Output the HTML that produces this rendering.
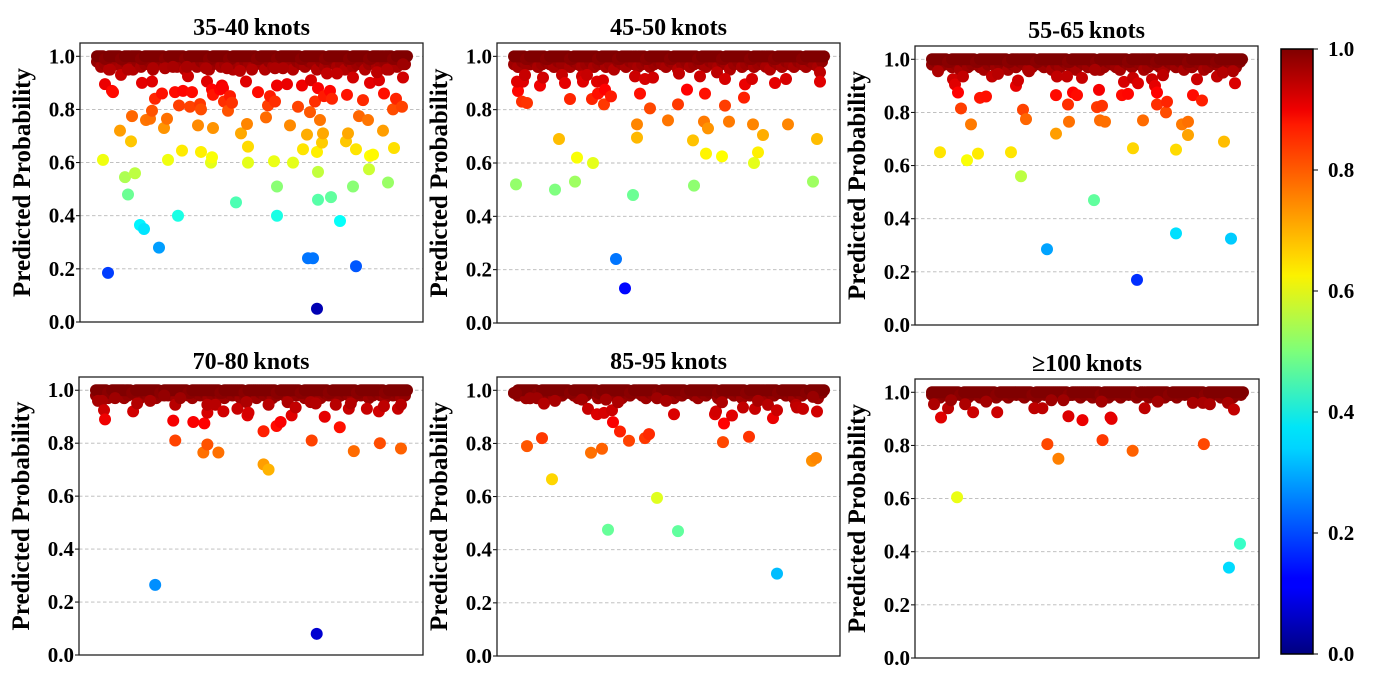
<!DOCTYPE html>
<html><head><meta charset="utf-8">
<style>
html,body{margin:0;padding:0;background:#fff;}
svg{display:block;font-family:"Liberation Serif",serif;font-weight:bold;}
</style></head>
<body>
<svg id="fig" width="1377" height="684" viewBox="0 0 1377 684" xmlns="http://www.w3.org/2000/svg">
<defs>
<linearGradient id="jet" x1="0" y1="1" x2="0" y2="0">
<stop offset="0" stop-color="#000080"/><stop offset="0.11" stop-color="#0000ff"/>
<stop offset="0.125" stop-color="#0000ff"/><stop offset="0.34" stop-color="#00d4ff"/>
<stop offset="0.375" stop-color="#00e5f8"/><stop offset="0.5" stop-color="#7dff7a"/>
<stop offset="0.625" stop-color="#fbf200"/><stop offset="0.66" stop-color="#ffd400"/>
<stop offset="0.875" stop-color="#ff1a00"/><stop offset="0.9" stop-color="#f00000"/>
<stop offset="1" stop-color="#800000"/>
</linearGradient>
</defs>
</svg>
<script>
// ---- data (sample index, predicted probability) ----
const panelTitles = ["35-40\u2009knots","45-50\u2009knots","55-65\u2009knots","70-80\u2009knots","85-95\u2009knots","\u2265100\u2009knots"];
const yTicks = [0.0,0.2,0.4,0.6,0.8,1.0];
const yTickLabels = ["0.0","0.2","0.4","0.6","0.8","1.0"];
const cbTicks = [0.0,0.2,0.4,0.6,0.8,1.0];
const cbTickLabels = ["0.0","0.2","0.4","0.6","0.8","1.0"];

const top1Line=[1,1,0.99,1,1,1,0.99,1,1,1,1,0.99,1,1,1,1,1,0.99,1,1,1,1,0.99,1,1,1,1,1,0.99,1,1,1,1,0.99,1,1,1,1,1,1,0.99,1,1,1,1,0.99,1,1,1,1,1,0.99,1,1,1,1,1,0.99,1,1,1,1,1,0.99,1,1,1,1,0.99,1,1,1,1,1,0.99,1,1,1];
const top1Low=[0.98,0.96,0.97,0.95,0.98,0.97,0.96,0.98,0.97,0.95,0.98,0.96,0.97,0.98,0.95,0.97,0.98,0.96,0.97,0.98,0.96,0.97,0.95,0.98,0.97,0.96,0.98,0.97,0.95,0.97,0.98,0.96,0.97,0.98,0.95,0.97,0.96,0.98,0.97,0.96,0.98,0.97,0.95,0.98,0.96,0.97,0.98,0.96,0.97,0.95,0.98,0.97,0.96,0.98,0.97,0.95,0.98,0.96,0.97,0.98,0.96,0.97,0.95,0.98,0.96,0.97,0.98,0.95,0.97,0.98,0.96,0.97,0.98,0.95,0.97,0.96,0.98,0.97];
const out1Idx=[6,8,11,15,16,23,24,28,31,34,35,38,43,45,47,49,53,55,55,58,62,65,67,70,71,78,81,82,85,86,91,93,95,101,103,104,104,110,114,115,115,116,116,123,125,126,127,131,133,135,139,144,149,150,151,151,161,169,171,173,177,178,180,180,180,190,193,196,201,205,206,210,211,213,214,216,218,220,220,221,221,221,223,225,226,227,233,234,235,243,249,250,251,256,259,259,262,266,271,272,273,273,276,282,286,287,291,296,297,299,305,306,13,31,56,68,76,90,109,130,143,155,178,186,230,240,256,280,290,306];
const out1Val=[0.61,0.895,0.185,0.87,0.865,0.72,0.93,0.545,0.48,0.68,0.775,0.56,0.365,0.9,0.35,0.76,0.765,0.795,0.905,0.84,0.28,0.86,0.73,0.765,0.61,0.865,0.4,0.815,0.645,0.87,0.925,0.81,0.865,0.74,0.82,0.8,0.64,0.905,0.6,0.62,0.875,0.73,0.855,0.875,0.89,0.88,0.83,0.795,0.85,0.825,0.45,0.71,0.905,0.745,0.66,0.6,0.865,0.77,0.815,0.85,0.605,0.83,0.51,0.4,0.89,0.895,0.74,0.6,0.81,0.89,0.65,0.705,0.24,0.79,0.91,0.24,0.83,0.64,0.05,0.46,0.565,0.88,0.76,0.675,0.71,0.85,0.87,0.47,0.84,0.38,0.68,0.855,0.71,0.51,0.65,0.21,0.775,0.835,0.76,0.575,0.9,0.625,0.63,0.91,0.72,0.86,0.525,0.8,0.655,0.84,0.81,0.92,0.95,0.95,0.955,0.955,0.96,0.96,0.955,0.955,0.945,0.95,0.955,0.955,0.935,0.935,0.92,0.94,0.95,0.97];

const top2Line=[1,1,1,0.99,1,1,1,1,0.99,1,1,1,1,1,0.99,1,1,1,1,1,1,0.99,1,1,1,1,0.99,1,1,1,1,1,1,0.99,1,1,1,1,1,0.99,1,1,1,1,1,1,0.99,1,1,1,1,1,0.99,1,1,1,1,1,1,0.99,1,1,1,1,1,0.99,1,1,1,1,1,1,0.99,1,1,1,1,1];
const top2Low=[0.97,0.96,0.98,0.97,0.97,0.98,0.96,0.97,0.98,0.97,0.96,0.98,0.97,0.97,0.96,0.98,0.97,0.96,0.97,0.98,0.96,0.97,0.98,0.96,0.97,0.95,0.98,0.97,0.96,0.98,0.97,0.96,0.97,0.98,0.96,0.97,0.98,0.97,0.96,0.98,0.97,0.95,0.97,0.98,0.96,0.97,0.98,0.97,0.96,0.98,0.97,0.96,0.98,0.97,0.95,0.97,0.98,0.96,0.97,0.98,0.96,0.97,0.98,0.96,0.95,0.98,0.97,0.96,0.98,0.97,0.96,0.98,0.97,0.96,0.98,0.97,0.96,0.98];
const out2Idx=[2,4,3,9,8,13,11,26,29,41,45,48,51,56,61,63,68,69,73,78,79,83,84,89,91,90,97,102,111,119,123,123,121,126,131,136,139,154,164,165,173,179,180,186,190,191,192,194,203,208,211,211,215,230,231,239,238,240,244,249,261,272,274,299,303,306,306];
const out2Val=[0.52,0.87,0.905,0.905,0.83,0.825,0.93,0.89,0.92,0.5,0.69,0.93,0.9,0.84,0.53,0.62,0.925,0.905,0.93,0.84,0.6,0.905,0.86,0.91,0.875,0.82,0.85,0.24,0.13,0.48,0.745,0.695,0.925,0.86,0.915,0.805,0.92,0.76,0.82,0.935,0.875,0.685,0.515,0.925,0.755,0.86,0.635,0.73,0.94,0.625,0.815,0.915,0.755,0.845,0.895,0.745,0.915,0.6,0.64,0.705,0.9,0.915,0.745,0.53,0.69,0.94,0.905];

const top3Line=[1,1,1,1,0.99,1,1,1,1,1,1,0.99,1,1,1,1,1,1,1,0.99,1,1,1,1,1,1,0.99,1,1,1,1,1,1,1,0.99,1,1,1,1,1,1,0.99,1,1,1,1,1,1,1,0.99,1,1,1,1,1,1,0.99,1,1,1,1,1,1,1,0.99,1,1,1,1,1,1,0.99,1,1,1,1,1,1];
const top3Low=[0.98,0.99,0.97,0.98,0.99,0.97,0.98,0.96,0.99,0.97,0.98,0.99,0.97,0.96,0.98,0.99,0.97,0.98,0.99,0.96,0.98,0.97,0.99,0.98,0.96,0.97,0.99,0.98,0.97,0.99,0.96,0.98,0.97,0.99,0.98,0.97,0.96,0.99,0.98,0.97,0.99,0.98,0.96,0.97,0.99,0.98,0.97,0.96,0.99,0.98,0.97,0.99,0.98,0.96,0.97,0.99,0.98,0.97,0.96,0.99,0.98,0.97,0.99,0.96,0.98,0.97,0.99,0.98,0.96,0.97,0.99,0.98,0.97,0.96,0.99,0.98,0.97,0.99];
const out3Idx=[6,8,21,23,26,29,31,35,39,46,48,54,60,66,79,84,86,89,91,94,97,115,124,124,125,135,136,137,141,145,150,162,163,165,167,170,168,173,190,192,196,201,205,201,206,211,220,223,225,225,231,234,235,244,244,250,256,256,261,265,270,285,291,292,299,301,303];
const out3Val=[0.955,0.65,0.925,0.905,0.875,0.815,0.935,0.62,0.755,0.645,0.855,0.86,0.935,0.945,0.65,0.9,0.92,0.56,0.81,0.775,0.955,0.285,0.72,0.865,0.935,0.935,0.83,0.765,0.875,0.865,0.93,0.47,0.96,0.82,0.885,0.825,0.77,0.765,0.865,0.915,0.87,0.665,0.17,0.93,0.91,0.77,0.925,0.9,0.875,0.83,0.94,0.8,0.84,0.66,0.345,0.755,0.765,0.715,0.865,0.925,0.845,0.935,0.95,0.69,0.325,0.955,0.91];

const top4Line=[1,1,1,0.99,1,1,1,1,1,0.99,1,1,1,1,1,1,0.99,1,1,1,1,1,1,0.99,1,1,1,1,1,1,1,0.99,1,1,1,1,1,0.99,1,1,1,1,1,1,1,0.99,1,1,1,1,1,0.99,1,1,1,1,1,1,0.99,1,1,1,1,1,1,0.99,1,1,1,1,1,1,0.99,1,1,1,1,1];
const top4Low=[0.98,0.99,0.98,0.97,0.99,0.98,0.99,0.97,0.98,0.99,0.98,0.97,0.99,0.98,0.99,0.97,0.98,0.99,0.98,0.99,0.97,0.98,0.99,0.98,0.97,0.99,0.98,0.99,0.97,0.98,0.99,0.98,0.97,0.99,0.98,0.99,0.97,0.98,0.99,0.98,0.97,0.99,0.98,0.99,0.97,0.98,0.99,0.98,0.97,0.99,0.98,0.99,0.97,0.98,0.99,0.98,0.97,0.99,0.98,0.99,0.97,0.98,0.99,0.98,0.97,0.99,0.98,0.99,0.97,0.98,0.99,0.98,0.97,0.99,0.98,0.99,0.97,0.98];
const out4Idx=[2,6,8,9,19,37,41,54,59,68,77,79,79,84,97,107,108,111,111,111,119,122,127,141,150,151,152,167,167,172,172,180,184,191,195,199,214,215,219,220,228,239,243,252,254,257,270,282,283,287,301,304,304];
const out4Val=[0.96,0.96,0.925,0.89,0.97,0.92,0.95,0.96,0.265,0.98,0.885,0.81,0.945,0.97,0.88,0.765,0.875,0.795,0.915,0.945,0.945,0.765,0.92,0.93,0.955,0.905,0.915,0.845,0.72,0.7,0.945,0.865,0.88,0.955,0.905,0.935,0.955,0.81,0.95,0.08,0.9,0.945,0.86,0.93,0.95,0.77,0.93,0.92,0.8,0.94,0.93,0.78,0.945];

const top5Line=[0.99,1,1,1,1,1,0.99,1,1,1,1,1,1,1,0.99,1,1,1,1,1,1,0.99,1,1,1,1,1,1,1,0.99,1,1,1,1,1,1,0.99,1,1,1,1,1,1,0.99,1,1,1,1,1,1,1,0.99,1,1,1,1,1,1,0.99,1,1,1,1,1,1,1,0.99,1,1,1,1,1,1,0.99,1,1,1,1];
const top5Low=[0.99,0.98,0.99,0.97,0.99,0.98,0.99,0.99,0.98,0.99,0.97,0.99,0.98,0.99,0.99,0.98,0.97,0.99,0.98,0.99,0.99,0.97,0.98,0.99,0.99,0.98,0.99,0.97,0.99,0.98,0.99,0.99,0.98,0.97,0.99,0.98,0.99,0.99,0.98,0.99,0.97,0.99,0.98,0.99,0.99,0.98,0.97,0.99,0.98,0.99,0.99,0.97,0.98,0.99,0.99,0.98,0.99,0.97,0.99,0.98,0.99,0.99,0.98,0.97,0.99,0.98,0.99,0.99,0.98,0.99,0.97,0.99,0.98,0.99,0.99,0.98,0.97,0.99];
const out5Idx=[2,13,16,23,28,30,38,41,68,74,77,83,88,90,92,94,98,99,104,106,115,131,135,143,143,152,160,164,201,202,208,210,209,218,229,235,241,244,254,259,263,263,282,283,289,298,302,303,299];
const out5Val=[0.99,0.79,0.97,0.97,0.82,0.95,0.665,0.96,0.965,0.93,0.765,0.91,0.78,0.915,0.965,0.475,0.925,0.88,0.955,0.845,0.81,0.82,0.835,0.595,0.97,0.96,0.91,0.47,0.91,0.92,0.955,0.875,0.805,0.905,0.935,0.825,0.93,0.96,0.945,0.895,0.31,0.925,0.945,0.935,0.93,0.735,0.745,0.92,0.975];

const top6Line=[1,1,1,1,1,1,1,0.99,1,1,1,1,1,1,1,1,0.99,1,1,1,1,1,1,1,1,0.99,1,1,1,1,1,1,1,1,0.99,1,1,1,1,1,1,1,0.99,1,1,1,1,1,1,1,1,0.99,1,1,1,1,1,1,1,0.99,1,1,1,1,1,1,1,1,0.99,1,1,1,1,1,1,1,1,1];
const top6Low=[0.99,0.99,0.98,0.99,0.99,0.98,0.99,0.99,0.99,0.98,0.99,0.99,0.98,0.99,0.99,0.99,0.98,0.99,0.99,0.98,0.99,0.99,0.99,0.98,0.99,0.99,0.98,0.99,0.99,0.99,0.98,0.99,0.99,0.98,0.99,0.99,0.99,0.98,0.99,0.99,0.98,0.99,0.99,0.99,0.98,0.99,0.99,0.98,0.99,0.99,0.99,0.98,0.99,0.99,0.98,0.99,0.99,0.99,0.98,0.99,0.99,0.98,0.99,0.99,0.99,0.98,0.99,0.99,0.98,0.99,0.99,0.99,0.98,0.99,0.99,0.98,0.99,0.99];
const out6Idx=[2,9,16,19,25,33,41,54,65,102,110,115,119,126,131,136,150,169,170,178,179,200,212,225,260,271,270,277,295,296,301,307];
const out6Val=[0.955,0.905,0.94,0.97,0.605,0.955,0.925,0.965,0.925,0.94,0.94,0.805,0.97,0.75,0.97,0.91,0.895,0.965,0.82,0.905,0.9,0.78,0.94,0.965,0.96,0.805,0.96,0.955,0.96,0.34,0.935,0.43];

const topLines=[top1Line,top2Line,top3Line,top4Line,top5Line,top6Line];
const topLows=[top1Low,top2Low,top3Low,top4Low,top5Low,top6Low];
const outIdx=[out1Idx,out2Idx,out3Idx,out4Idx,out5Idx,out6Idx];
const outVal=[out1Val,out2Val,out3Val,out4Val,out5Val,out6Val];

// ---- layout (not data) ----
const boxes=[
 {l:80,r:423,t:43,b:322},{l:497,r:840,t:43,b:323},{l:915,r:1258,t:46,b:325},
 {l:79,r:423,t:377,b:655},{l:497,r:840,t:377,b:656},{l:915,r:1259,t:379,b:658}];
const NS="http://www.w3.org/2000/svg";
const svg=document.getElementById('fig');
function mk(tag,attrs,parent){const e=document.createElementNS(NS,tag);for(const k in attrs)e.setAttribute(k,attrs[k]);(parent||svg).appendChild(e);return e;}
function clamp(v){return Math.max(0,Math.min(1,v));}
function jet(v){const r=clamp(1.5-Math.abs(4*v-3)),g=clamp(1.5-Math.abs(4*v-2)),b=clamp(1.5-Math.abs(4*v-1));
 return `rgb(${Math.round(r*255)},${Math.round(g*255)},${Math.round(b*255)})`;}

boxes.forEach((bx,p)=>{
 const g=mk('g',{});
 
 
 const ys=v=>bx.b-(v/1.05)*(bx.b-bx.t);
 const xs=i=>bx.l+17+i*((bx.r-bx.l-34)/309);
 yTicks.forEach((t,k)=>{
  if(t>0){const gl=mk('line',{x1:bx.l,x2:bx.r,y1:ys(t),y2:ys(t),stroke:'#b8b8b8','stroke-width':0.9,'stroke-dasharray':'3.5,2.5'},g);
   
   }
  const tl=mk('text',{x:bx.l-5,y:ys(t)+7,'text-anchor':'end','font-size':21},g);
  tl.textContent=yTickLabels[k];
  
  
  const tk=mk('line',{x1:bx.l-4,x2:bx.l,y1:ys(t),y2:ys(t),stroke:'#000','stroke-width':1},g);
  
  
 });
 const drawPt=(i,v)=>{const c=mk('circle',{cx:xs(i),cy:ys(v),r:6,fill:jet(v)},g);
  
  };
 topLows[p].forEach((v,k)=>drawPt(k*4,v));
 topLines[p].forEach((v,k)=>drawPt(2+k*4,v));
 topLines[p].forEach((v,k)=>drawPt(k*4,v));
 outIdx[p].forEach((i,k)=>drawPt(i,outVal[p][k]));
 const fr=mk('rect',{x:bx.l,y:bx.t,width:bx.r-bx.l,height:bx.b-bx.t,fill:'none',stroke:'#222','stroke-width':1.3},g);
 
 
 const tt=mk('text',{x:(bx.l+bx.r)/2,y:bx.t-8,'text-anchor':'middle','font-size':24},g);
 tt.textContent=panelTitles[p];
 
 
 const yl=mk('text',{x:0,y:0,'text-anchor':'middle','font-size':25,transform:`translate(${bx.l-50},${(bx.t+bx.b)/2}) rotate(-90)`},g);
 yl.textContent='Predicted Probability';
 
 
});

const cb={l:1281,r:1313,t:49,b:654};
const cg=mk('g',{});


const cr=mk('rect',{x:cb.l,y:cb.t,width:cb.r-cb.l,height:cb.b-cb.t,fill:'url(#jet)',stroke:'#000','stroke-width':1.5},cg);


cbTicks.forEach((t,k)=>{
 const y=cb.b-t*(cb.b-cb.t);
 const tk=mk('line',{x1:cb.r,x2:cb.r+5,y1:y,y2:y,stroke:'#000','stroke-width':1},cg);
 
 
 const tl=mk('text',{x:cb.r+15,y:y+7,'font-size':21},cg);
 tl.textContent=cbTickLabels[k];
 
 
});
</script>
</body></html>
